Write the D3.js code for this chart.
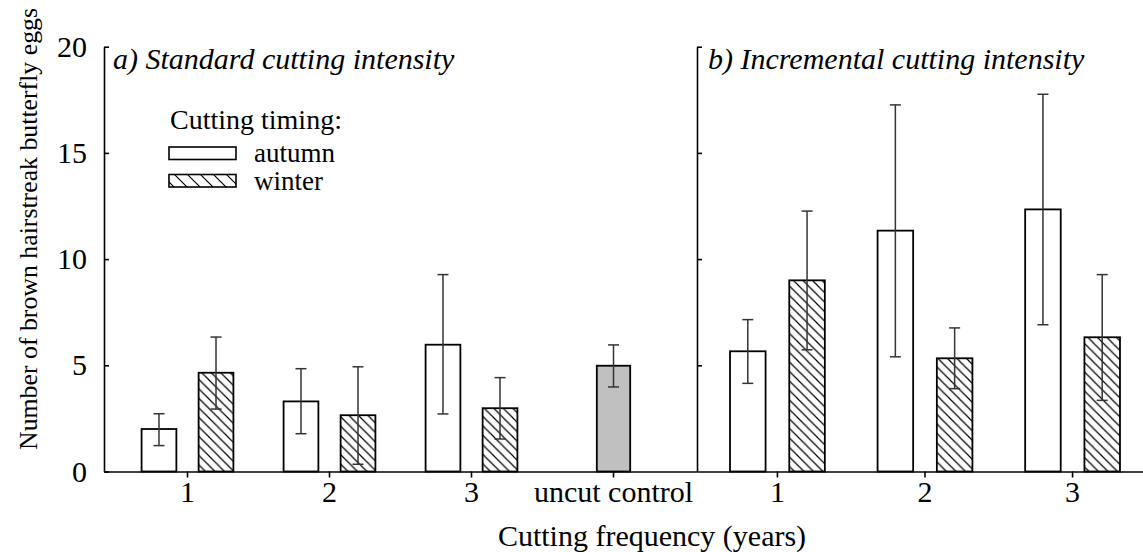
<!DOCTYPE html>
<html>
<head>
<meta charset="utf-8">
<script src="https://cdn.jsdelivr.net/npm/d3@7"></script>
<style>
  html, body { margin: 0; padding: 0; background: #fff; }
  svg { display: block; }
  text { font-family: "Liberation Serif", "Times New Roman", serif; fill: #000; }
</style>
</head>
<body>
<svg id="chart" width="1143" height="552"></svg>
<script>
// ---------- data ----------
const categoriesA = ["1", "2", "3", "uncut control"];
const categoriesB = ["1", "2", "3"];
const timings = ["autumn", "winter"];

// Panel a) standard cutting intensity (frequency 1,2,3)
const aAutumn     = [2.0, 3.3, 5.97];
const aAutumnLow  = [1.22, 1.78, 2.71];
const aAutumnHigh = [2.72, 4.84, 9.27];
const aWinter     = [4.65, 2.65, 2.98];
const aWinterLow  = [2.94, 0.34, 1.53];
const aWinterHigh = [6.33, 4.93, 4.42];
// uncut control
const controlValue = [4.98];
const controlLow   = [3.98];
const controlHigh  = [5.96];

// Panel b) incremental cutting intensity
const bAutumn     = [5.66, 11.34, 12.34];
const bAutumnLow  = [4.15, 5.40, 6.91];
const bAutumnHigh = [7.15, 17.26, 17.76];
const bWinter     = [9.0, 5.33, 6.32];
const bWinterLow  = [5.73, 3.90, 3.35];
const bWinterHigh = [12.26, 6.76, 9.27];

const yTicks = [0, 5, 10, 15, 20];

// ---------- layout ----------
const svg = d3.select("#chart");
const axA = 104, axB = 697, xEndB = 1153;
const yBase = 471.5, yTop = 46.7;
const tickFont = 30;

const y = d3.scaleLinear().domain([0, 20]).range([yBase, yTop]);
const xA = d3.scaleBand().domain(categoriesA).range([axA, axB]).paddingInner(0).paddingOuter(0.088);
const xB = d3.scaleBand().domain(categoriesB).range([axB, xEndB]).paddingInner(0).paddingOuter(0.045);
const innerA = d3.scaleBand().domain(timings).range([0, xA.bandwidth()]).paddingInner(0.39).paddingOuter(0.44);
const innerB = d3.scaleBand().domain(timings).range([0, xB.bandwidth()]).paddingInner(0.40).paddingOuter(0.445);

// ---------- patterns ----------
const defs = svg.append("defs");
function hatch(id, s) {
  const p = defs.append("pattern").attr("id", id).attr("patternUnits", "userSpaceOnUse")
    .attr("width", s).attr("height", s);
  p.append("rect").attr("width", s).attr("height", s).attr("fill", "#fff");
  p.append("path")
    .attr("d", `M${-s/4},${-s/4} L${s*1.25},${s*1.25} M${-s/4},${s*0.75} L${s/4},${s*1.25} M${s*0.75},${-s/4} L${s*1.25},${s/4}`)
    .attr("stroke", "#000").attr("stroke-width", 1.2);
}
hatch("hatch", 9.5);
hatch("hatchLegend", 13);

const fills = { autumn: "#fff", winter: "url(#hatch)" };

// ---------- bars ----------
function rows(cats, vals, lows, highs, timing) {
  return cats.map((c, i) => ({ cat: c, timing, v: vals[i], lo: lows[i], hi: highs[i] }));
}
const dataA = [...rows(categoriesA.slice(0, 3), aAutumn, aAutumnLow, aAutumnHigh, "autumn"),
               ...rows(categoriesA.slice(0, 3), aWinter, aWinterLow, aWinterHigh, "winter")];
const dataB = [...rows(categoriesB, bAutumn, bAutumnLow, bAutumnHigh, "autumn"),
               ...rows(categoriesB, bWinter, bWinterLow, bWinterHigh, "winter")];
const dataC = [{ cat: "uncut control", v: controlValue[0], lo: controlLow[0], hi: controlHigh[0] }];

function drawBars(data, xs, inner) {
  const g = svg.append("g");
  g.selectAll("rect").data(data).enter().append("rect")
    .attr("x", d => xs(d.cat) + inner(d.timing))
    .attr("y", d => y(d.v))
    .attr("width", inner.bandwidth())
    .attr("height", d => y(0) - y(d.v))
    .attr("fill", d => fills[d.timing])
    .attr("stroke", "#000").attr("stroke-width", 1.8);
  drawErr(data, d => xs(d.cat) + inner(d.timing) + inner.bandwidth() / 2);
}
function drawErr(data, cx) {
  const g = svg.append("g").attr("stroke", "#333").attr("stroke-width", 1.5).attr("fill", "none");
  const cap = 5.5;
  data.forEach(d => {
    const x = cx(d);
    g.append("line").attr("x1", x).attr("x2", x).attr("y1", y(d.lo)).attr("y2", y(d.hi));
    g.append("line").attr("x1", x - cap).attr("x2", x + cap).attr("y1", y(d.lo)).attr("y2", y(d.lo));
    g.append("line").attr("x1", x - cap).attr("x2", x + cap).attr("y1", y(d.hi)).attr("y2", y(d.hi));
  });
}
drawBars(dataA, xA, innerA);
drawBars(dataB, xB, innerB);
// control bar
const cw = innerA.bandwidth() * 0.96;
svg.append("g").selectAll("rect").data(dataC).enter().append("rect")
  .attr("x", d => xA(d.cat) + xA.bandwidth() / 2 - cw / 2)
  .attr("y", d => y(d.v))
  .attr("width", cw)
  .attr("height", d => y(0) - y(d.v))
  .attr("fill", "#c0c0c0").attr("stroke", "#000").attr("stroke-width", 1.8);
drawErr(dataC, d => xA(d.cat) + xA.bandwidth() / 2);

// ---------- axes ----------
function styleAxis(g) {
  g.selectAll("path, line").attr("stroke", "#000").attr("stroke-width", 1.6);
  g.selectAll("text").style("font-size", tickFont + "px").attr("fill", "#000")
    .style("font-family", '"Liberation Serif", "Times New Roman", serif');
}
svg.append("g").attr("transform", `translate(${axA},0)`)
  .call(d3.axisLeft(y).tickValues(yTicks).tickSizeInner(-5).tickSizeOuter(0).tickPadding(17))
  .call(styleAxis);
svg.append("g").attr("transform", `translate(${axB},0)`)
  .call(d3.axisLeft(y).tickValues(yTicks.slice(1)).tickSizeInner(-5).tickSizeOuter(0).tickFormat(""))
  .call(styleAxis);
svg.append("g").attr("transform", `translate(0,${yBase})`)
  .call(d3.axisBottom(xA).tickSizeInner(6).tickSizeOuter(0).tickPadding(3))
  .call(styleAxis);
svg.append("g").attr("transform", `translate(0,${yBase})`)
  .call(d3.axisBottom(xB).tickSizeInner(6).tickSizeOuter(0).tickPadding(3))
  .call(styleAxis);

// ---------- titles ----------
svg.append("text").attr("x", 652).attr("y", 546).attr("text-anchor", "middle")
  .style("font-size", "30px").text("Cutting frequency (years)");
svg.append("text").attr("transform", "translate(37,229) rotate(-90)").attr("text-anchor", "middle")
  .style("font-size", "25.8px").text("Number of brown hairstreak butterfly eggs");
svg.append("text").attr("x", 113).attr("y", 69).style("font-size", "30px").style("font-style", "italic")
  .text("a) Standard cutting intensity");
svg.append("text").attr("x", 708).attr("y", 69).style("font-size", "30px").style("font-style", "italic")
  .text("b) Incremental cutting intensity");

// ---------- legend ----------
const lg = svg.append("g");
lg.append("text").attr("x", 170).attr("y", 129).style("font-size", "28px").text("Cutting timing:");
const legendFills = { autumn: "#fff", winter: "url(#hatchLegend)" };
timings.forEach((t, i) => {
  lg.append("rect").attr("x", 169).attr("y", 147 + i * 27.5).attr("width", 67).attr("height", 12.5)
    .attr("fill", legendFills[t]).attr("stroke", "#000").attr("stroke-width", 1.6);
  lg.append("text").attr("x", 254).attr("y", 162 + i * 28).style("font-size", "27px").text(t);
});
</script>
</body>
</html>
